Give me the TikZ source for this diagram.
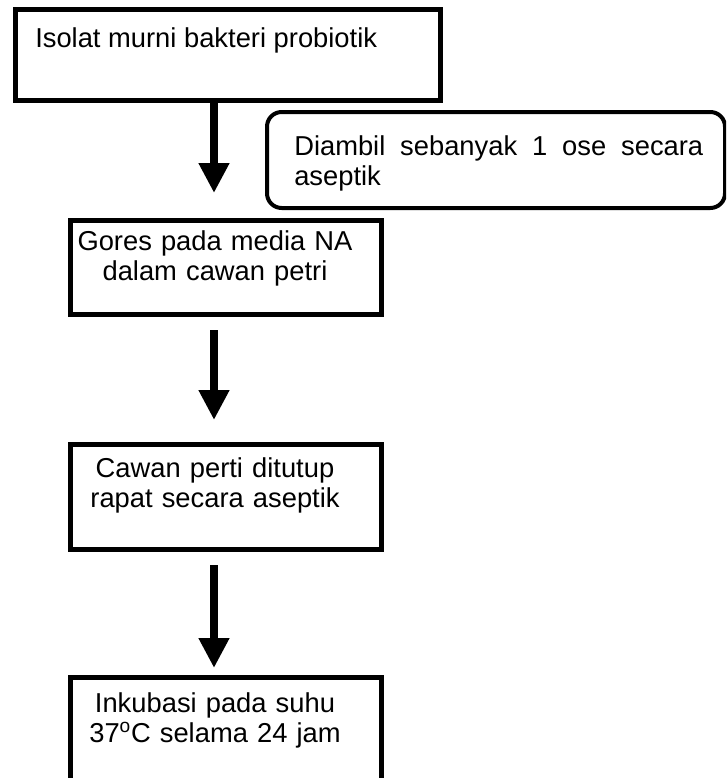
\documentclass[tikz,border=0pt]{standalone}
\usepackage{fontspec}
\setmainfont{Liberation Sans}
\usetikzlibrary{arrows.meta,calc}
\begin{document}
\begin{tikzpicture}[x=0.75pt,y=-0.75pt,
  box/.style={draw=black,line width=3.6pt,fill=white,inner sep=0pt,rectangle,anchor=north west},
  callout/.style={draw=black,line width=3pt,rounded corners=11pt,inner sep=0pt,rectangle,anchor=north west},
  lbl/.style={inner sep=0pt,font=\fontsize{20.5pt}{23pt}\selectfont},
  flow/.style={line width=6pt,-{Triangle[length=22.5pt,width=21.75pt]}}]
\useasboundingbox (0,0) rectangle (726,778);
\clip (0,0) rectangle (726,778);

% process boxes
\node[box,minimum width=318.75pt,minimum height=68.25pt] (b1) at (13,7) {};
\node[box,minimum width=233.25pt,minimum height=70.5pt] (b2) at (68,218) {};
\node[box,minimum width=233.25pt,minimum height=78.75pt] (b3) at (68,442) {};
\node[box,minimum width=233.25pt,minimum height=97.5pt] (b4) at (68,675) {};
% side note
\node[callout,minimum width=343.5pt,minimum height=72pt] (note) at (265,110) {};

% texts
\node[lbl,anchor=base west] (t1) at (35,47) {Isolat murni bakteri probiotik};
\node[lbl,anchor=base west,text width=306.75pt,align=left] (tn) at (294,155)
  {Diambil\hfill sebanyak\hfill 1\hfill ose\hfill secara\\aseptik};
\node[lbl,anchor=base,text width=217.5pt,align=center] (t2) at (215,250) {Gores pada media NA\\dalam cawan petri};
\node[lbl,anchor=base,text width=217.5pt,align=center] (t3) at (215,477) {Cawan perti ditutup\\rapat secara aseptik};
\node[lbl,anchor=base,text width=217.5pt,align=center] (t4) at (215,712) {Inkubasi pada suhu\\37\textsuperscript{o}C selama 24 jam};

% arrows
\coordinate (ax) at (214,0);
\coordinate (a1e) at (214,193);
\coordinate (a2s) at (214,330);
\coordinate (a2e) at (214,420);
\coordinate (a3s) at (214,565);
\coordinate (a3e) at (214,668);
\draw[flow] (b1.south -| ax) -- (a1e);
\draw[flow] (a2s) -- (a2e);
\draw[flow] (a3s) -- (a3e);
\end{tikzpicture}
\end{document}
